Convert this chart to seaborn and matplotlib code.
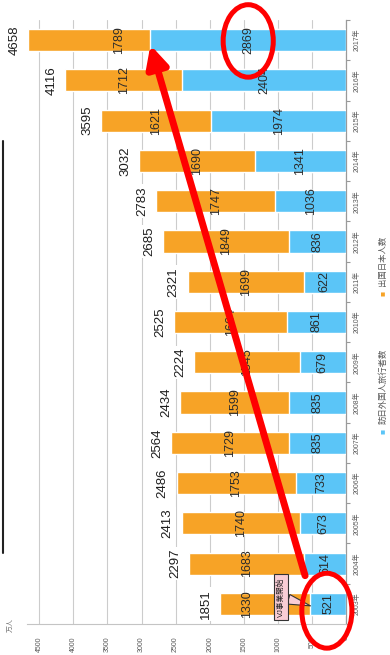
import matplotlib
matplotlib.use("Agg")
import matplotlib.pyplot as plt
import seaborn as sns
import pandas as pd
from matplotlib.patches import Ellipse
from matplotlib.lines import Line2D

# ---- data (万人) ----
years = ["2003年", "2004年", "2005年", "2006年", "2007年", "2008年", "2009年", "2010年",
         "2011年", "2012年", "2013年", "2014年", "2015年", "2016年", "2017年"]
inbound = [521, 614, 673, 733, 835, 835, 679, 861, 622, 836, 1036, 1341, 1974, 2404, 2869]
outbound = [1330, 1683, 1740, 1753, 1729, 1599, 1545, 1664, 1699, 1849, 1747, 1690, 1621, 1712, 1789]
totals = [1851, 2297, 2413, 2486, 2564, 2434, 2224, 2525, 2321, 2685, 2783, 3032, 3595, 4116, 4658]
value_ticks = [0, 500, 1000, 1500, 2000, 2500, 3000, 3500, 4000, 4500]
series_names = ["訪日外国人旅行者数", "出国日本人数"]
unit_label = "万人"
callout_text = "VJ事業開始"

BLUE = "#5BC5F7"
ORANGE = "#F7A326"
GREY_TXT = "#595959"
LABEL_TXT = "#2b2b2b"
PINK = "#F9CDD5"

sns.set_style("white")
plt.rcParams["font.family"] = ["Liberation Sans", "Noto Sans CJK JP"]

df = pd.DataFrame({"year": years, "inbound": inbound, "outbound": outbound, "total": totals})
order = years[::-1]          # latest year at the top
pos = {y: order.index(y) for y in years}

W, H = 390, 655
fig = plt.figure(figsize=(W / 100, H / 100), dpi=100)
ax = fig.add_axes([27 / W, 31 / H, (346 - 27) / W, (624 - 20) / H])

# stacked bars: full total in orange, inbound drawn over it from zero
sns.barplot(data=df, y="year", x="total", order=order, orient="h", color=ORANGE,
            saturation=1, width=0.55, errorbar=None, ax=ax, zorder=2)
sns.barplot(data=df, y="year", x="inbound", order=order, orient="h", color=BLUE,
            saturation=1, width=0.55, errorbar=None, ax=ax, zorder=3)

ax.set_xlim(4680, 0)
ax.set_ylim(14.5, -0.5)
ax.set_xlabel("")
ax.set_ylabel("")

# value axis (along the bottom, labels turned)
ax.set_xticks(value_ticks)
ax.set_xticklabels([str(v) for v in value_ticks], rotation=90)
ax.tick_params(axis="x", length=0, pad=9, labelsize=5, labelcolor=GREY_TXT)
ax.xaxis.grid(True, color="#cccccc", lw=0.8)
ax.yaxis.grid(False)
ax.set_axisbelow(True)

# category axis on the right
ax.yaxis.tick_right()
ax.set_yticks(range(len(order)))
ax.set_yticklabels(order, rotation=90, va="center")
ax.set_yticks([i - 0.5 for i in range(len(order) + 1)], minor=True)
ax.tick_params(axis="y", which="major", length=0, pad=5, labelsize=5, labelcolor=GREY_TXT)
ax.tick_params(axis="y", which="minor", length=3, width=0.8, color="#999999",
               direction="out", right=True, left=False)

for s in ["top", "left"]:
    ax.spines[s].set_visible(False)
ax.spines["right"].set_color("#9a9a9a")
ax.spines["right"].set_linewidth(0.9)
ax.spines["bottom"].set_color("#c4c4c4")
ax.spines["bottom"].set_linewidth(0.8)

# segment and total labels
out_nudge_px = {"2017年": 30, "2003年": -18}
for i, yr in enumerate(years):
    p = pos[yr]
    ax.text(inbound[i] / 2, p, str(inbound[i]), rotation=90, ha="center", va="center",
            fontsize=9, color=LABEL_TXT, zorder=4)
    ax.annotate(str(outbound[i]), xy=(inbound[i] + outbound[i] / 2, p),
                xytext=(out_nudge_px.get(yr, 0), 0), textcoords="offset pixels",
                rotation=90, ha="center", va="center", fontsize=9, color=LABEL_TXT, zorder=4)
    ax.annotate(str(totals[i]), xy=(totals[i], p), xytext=(-14, 0), textcoords="offset pixels",
                rotation=90, ha="center", va="center", fontsize=9.5, color="#1e1e1e",
                bbox=dict(boxstyle="square,pad=0.15", fc="white", ec="none"), zorder=4)

# callout at the start of the Visit Japan campaign
p03 = pos["2003年"]
p17 = pos["2017年"]
ax.annotate(callout_text, xy=(inbound[0], p03 + 0.05), xytext=(956, p03 - 0.17),
            rotation=90, ha="center", va="center", fontsize=5.5, color="#222222",
            bbox=dict(boxstyle="square,pad=0.45", fc=PINK, ec="#333333", lw=0.8),
            arrowprops=dict(arrowstyle="wedge,tail_width=1.3,shrink_factor=0.5",
                            fc=PINK, ec="#333333", lw=0.8, shrinkA=0, shrinkB=0),
            zorder=6)

# red highlights
ax.add_patch(Ellipse((inbound[-1] / 2, p17 + 0.02), width=735, height=1.8, fill=False,
                     ec="red", lw=3.6, zorder=7, clip_on=False))
ax.add_patch(Ellipse((inbound[0] / 2 + 20, p03 + 0.17), width=735, height=1.86, fill=False,
                     ec="red", lw=3.6, zorder=7, clip_on=False))
ax.annotate("", xy=(inbound[-1], p17 + 0.12), xytext=(600, p03 - 0.7),
            arrowprops=dict(arrowstyle="-|>,head_length=1.3,head_width=0.65", color="red",
                            lw=5, mutation_scale=10, shrinkA=0, shrinkB=0),
            zorder=8, annotation_clip=False)

# unit label
fig.text(11.5 / W, 1 - 624.5 / H, unit_label, rotation=90, fontsize=5, color="#777777",
         ha="center", va="center")

# legend, written along the right edge
lx = 383 / W
fig.text(lx, 1 - 434 / H, "■", rotation=90, fontsize=6, color=BLUE, ha="center", va="bottom")
fig.text(lx, 1 - 424 / H, series_names[0], rotation=90, fontsize=6, color=GREY_TXT,
         ha="center", va="bottom")
fig.text(lx, 1 - 296 / H, "■", rotation=90, fontsize=6, color=ORANGE, ha="center", va="bottom")
fig.text(lx, 1 - 286 / H, series_names[1], rotation=90, fontsize=6, color=GREY_TXT,
         ha="center", va="bottom")

# page edge rule on the left
fig.add_artist(Line2D([2.7 / W, 2.7 / W], [1 - 141 / H, 1 - 553 / H], color="#222222", lw=1.5))

fig.savefig("out.png", dpi=100)
